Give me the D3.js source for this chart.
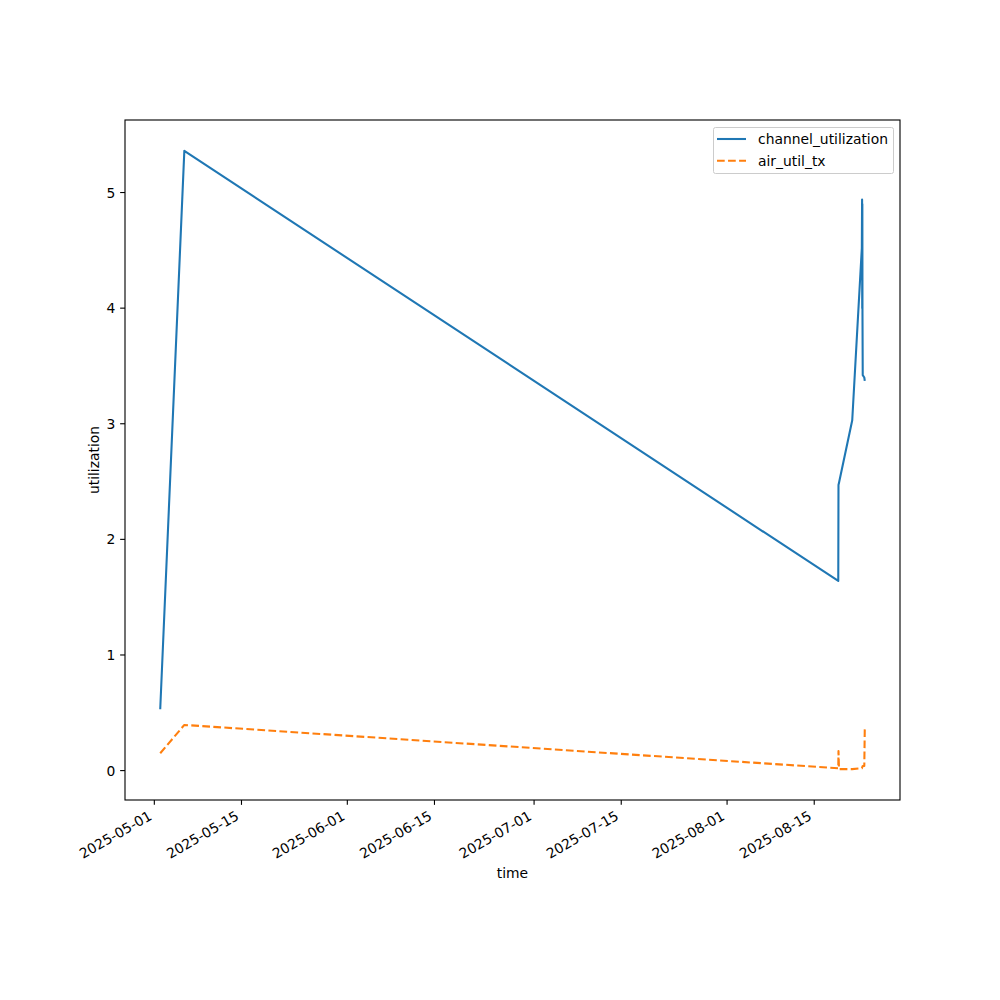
<!DOCTYPE html>
<html>
<head>
<meta charset="utf-8">
<script src="https://cdn.jsdelivr.net/npm/d3@7"></script>
<style>
  html, body { margin: 0; padding: 0; background: #fff; }
  text { font-family: "DejaVu Sans", sans-serif; fill: #000; }
</style>
</head>
<body>
<svg id="chart" width="1000" height="1000"></svg>
<script>
// ---- data ----
const times = [
  "2025-05-01T22:45:00",
  "2025-05-05T19:40:00",
  "2025-08-18T20:40:00",
  "2025-08-18T21:30:00",
  "2025-08-18T23:30:00",
  "2025-08-21T02:30:00",
  "2025-08-22T15:30:00",
  "2025-08-22T16:30:00",
  "2025-08-22T17:00:00",
  "2025-08-22T17:30:00",
  "2025-08-22T18:00:00",
  "2025-08-22T19:00:00",
  "2025-08-23T01:00:00",
  "2025-08-23T02:50:00"
];
const channelUtilization = [0.53, 5.36, 1.64, 2.47, 2.49, 3.03, 4.52, 4.94, 4.0, 4.9, 3.95, 3.42, 3.40, 3.37];
const airUtilTx =          [0.15, 0.395, 0.02, 0.17, 0.013, 0.013, 0.02, 0.025, 0.03, 0.03, 0.035, 0.04, 0.04, 0.36];
const xTickLabels = ["2025-05-01","2025-05-15","2025-06-01","2025-06-15","2025-07-01","2025-07-15","2025-08-01","2025-08-15"];
const yTickValues = [0, 1, 2, 3, 4, 5];
const seriesNames = ["channel_utilization", "air_util_tx"];

// ---- layout ----
const PT = 100 / 72;
const L = 125, R = 900, T = 120, B = 800;
const FS = (10 * PT).toFixed(2) + "px";
const TICK = 3.5 * PT, PAD = 3.5 * PT;
const svg = d3.select("#chart");
const parse = d3.isoParse;
const dates = times.map(parse);

const tExt = d3.extent(dates);
const tPad = (tExt[1] - tExt[0]) * 0.05;
const x = d3.scaleTime()
  .domain([new Date(+tExt[0] - tPad), new Date(+tExt[1] + tPad)])
  .range([L, R]);

const allY = channelUtilization.concat(airUtilTx);
const yMin = d3.min(allY), yMax = d3.max(allY);
const yPad = (yMax - yMin) * 0.05;
const y = d3.scaleLinear().domain([yMin - yPad, yMax + yPad]).range([B, T]);

// ---- lines ----
const g = svg.append("g");
svg.append("clipPath").attr("id", "clip")
  .append("rect").attr("x", L).attr("y", T).attr("width", R - L).attr("height", B - T);

const dashPat = [3.7 * 1.5 * PT, 1.6 * 1.5 * PT].join(",");
const series = [
  { name: seriesNames[0], values: channelUtilization, color: "#1f77b4", dash: null },
  { name: seriesNames[1], values: airUtilTx, color: "#ff7f0e", dash: dashPat }
];
const line = d3.line().x(d => x(d[0])).y(d => y(d[1]));
series.forEach(s => {
  g.append("path")
    .datum(dates.map((d, i) => [d, s.values[i]]))
    .attr("clip-path", "url(#clip)")
    .attr("fill", "none")
    .attr("stroke", s.color)
    .attr("stroke-width", 1.5 * PT)
    .attr("stroke-linejoin", "round")
    .attr("stroke-linecap", "butt")
    .attr("stroke-dasharray", s.dash)
    .attr("d", line);
});

// ---- frame ----
svg.append("rect").attr("x", L).attr("y", T).attr("width", R - L).attr("height", B - T)
  .attr("fill", "none").attr("stroke", "#000").attr("stroke-width", 0.8 * PT);

// ---- x axis ----
const xAxis = svg.append("g");
xTickLabels.forEach(lbl => {
  const px = x(parse(lbl + "T00:00:00"));
  xAxis.append("line").attr("x1", px).attr("x2", px).attr("y1", B).attr("y2", B + TICK)
    .attr("stroke", "#000").attr("stroke-width", 0.8 * PT);
  const ax = px - 1.5, ay = B + TICK + PAD + 9;
  xAxis.append("text")
    .attr("x", ax).attr("y", ay)
    .attr("text-anchor", "end")
    .attr("font-size", FS)
    .attr("transform", `rotate(-30, ${ax}, ${ay})`)
    .text(lbl);
});
svg.append("text").attr("x", (L + R) / 2).attr("y", 878)
  .attr("text-anchor", "middle").attr("font-size", FS).text("time");

// ---- y axis ----
const yAxis = svg.append("g");
yTickValues.forEach(v => {
  const py = y(v);
  yAxis.append("line").attr("x1", L - TICK).attr("x2", L).attr("y1", py).attr("y2", py)
    .attr("stroke", "#000").attr("stroke-width", 0.8 * PT);
  yAxis.append("text").attr("x", L - TICK - PAD).attr("y", py)
    .attr("text-anchor", "end").attr("dominant-baseline", "central")
    .attr("font-size", FS).text(String(v));
});
svg.append("text").attr("transform", `translate(99, ${(T + B) / 2}) rotate(-90)`)
  .attr("text-anchor", "middle").attr("font-size", FS).text("utilization");

// ---- legend ----
const lg = svg.append("g");
lg.append("rect").attr("x", 713.5).attr("y", 127.5).attr("width", 180).attr("height", 46)
  .attr("rx", 2).attr("ry", 2)
  .attr("fill", "#fff").attr("fill-opacity", 0.8)
  .attr("stroke", "#cccccc").attr("stroke-width", 1);
series.forEach((s, i) => {
  const ly = 139 + i * 21.7;
  lg.append("line").attr("x1", 717).attr("x2", 746).attr("y1", ly).attr("y2", ly)
    .attr("stroke", s.color).attr("stroke-width", 1.5 * PT)
    .attr("stroke-dasharray", s.dash);
  lg.append("text").attr("x", 758).attr("y", ly).attr("dominant-baseline", "central")
    .attr("font-size", FS).text(s.name);
});
</script>
</body>
</html>
